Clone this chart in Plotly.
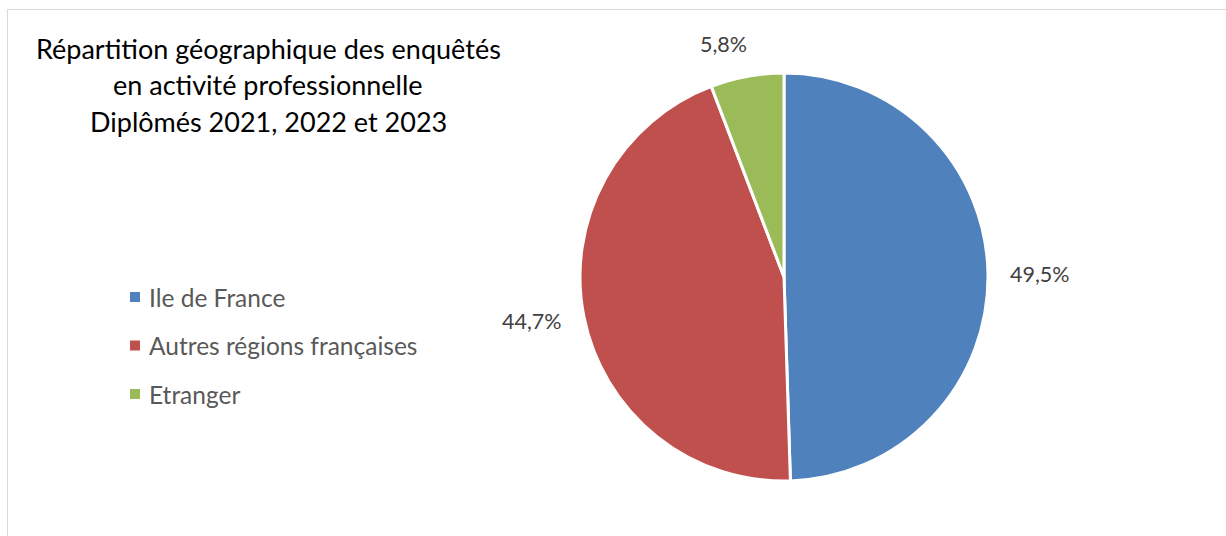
import math
import plotly.graph_objects as go

categories = ["Ile de France", "Autres régions françaises", "Etranger"]
values = [49.5, 44.7, 5.8]
value_labels = ["49,5%", "44,7%", "5,8%"]
colors = ["#4F81BD", "#C0504D", "#9BBB59"]
title_lines = ["Répartition géographique des enquêtés",
               "en activité professionnelle",
               "Diplômés 2021, 2022 et 2023"]

W, H = 1226, 536
FONT = "Lato, 'Open Sans', sans-serif"
CX, CY, R = 784, 277, 204

fig = go.Figure()
fig.add_trace(go.Pie(
    labels=categories, values=values,
    textinfo="none",
    sort=False, direction="clockwise", rotation=0,
    marker=dict(colors=colors, line=dict(color="white", width=3)),
    domain=dict(x=[(CX - R) / W, (CX + R) / W], y=[1 - (CY + R) / H, 1 - (CY - R) / H]),
    showlegend=False, hoverinfo="label+percent",
))

annotations = []
# data labels placed outside the slices at their mid angle
total = sum(values)
cum = 0.0
for v, lab in zip(values, value_labels):
    mid = (cum + v / 2) / total * 2 * math.pi
    cum += v
    s, c = math.sin(mid), math.cos(mid)
    px = CX + (R + 20) * s
    py = CY - (R + 18) * c
    xa = "left" if s > 0.3 else "right"
    ya = "middle" if abs(c) < 0.7 else ("bottom" if c > 0 else "top")
    if ya == "bottom":
        px += 6
    annotations.append(dict(text=lab, x=px / W, y=1 - py / H, xref="paper", yref="paper",
                            xanchor=xa, yanchor=ya, showarrow=False,
                            font=dict(family=FONT, size=21.5, color="#404040")))

for i, line in enumerate(title_lines):
    annotations.append(dict(text=line, x=268 / W, y=1 - (48 + 36.5 * i) / H,
                            xref="paper", yref="paper", xanchor="center", yanchor="middle",
                            showarrow=False, font=dict(family=FONT, size=27, color="#000000")))
shapes = [dict(type="rect", xref="paper", yref="paper", x0=7.5 / W, x1=1.05, y0=-0.05, y1=1 - 9.5 / H,
               line=dict(color="#D9D9D9", width=1), fillcolor="rgba(0,0,0,0)")]
for i, (cat, col) in enumerate(zip(categories, colors)):
    yc = 297 + 48.5 * i
    shapes.append(dict(type="rect", xref="paper", yref="paper",
                       x0=130 / W, x1=140 / W, y0=1 - (yc + 5) / H, y1=1 - (yc - 5) / H,
                       line=dict(width=0), fillcolor=col))
    annotations.append(dict(text=cat, x=147 / W, y=1 - yc / H, xref="paper", yref="paper",
                            xanchor="left", yanchor="middle", showarrow=False,
                            font=dict(family=FONT, size=24.5, color="#595959")))

fig.update_layout(width=W, height=H, margin=dict(l=0, r=0, t=0, b=0),
                  paper_bgcolor="white", plot_bgcolor="white",
                  annotations=annotations, shapes=shapes)
fig.write_html("out.html")
